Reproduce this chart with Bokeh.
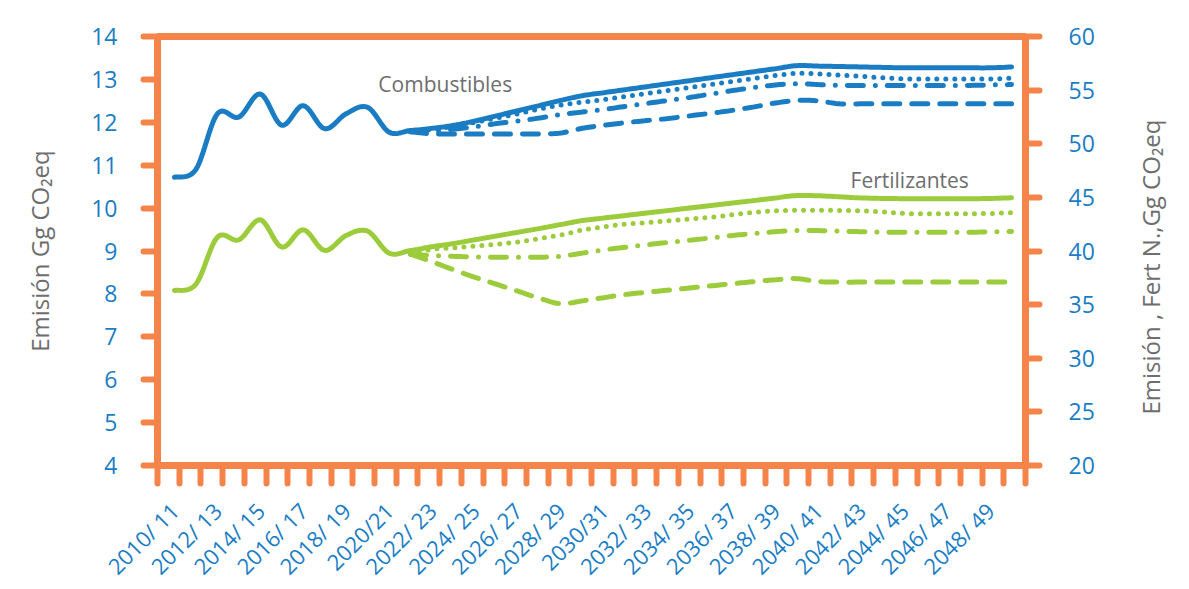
import math
from bokeh.plotting import figure
from bokeh.layouts import row
from bokeh.models import Range1d, LinearAxis, FixedTicker, Label
from bokeh.embed import file_html
from bokeh.resources import INLINE

# ---------------- data ----------------
tick_labels = ["2010/ 11", "2012/ 13", "2014/ 15", "2016/ 17", "2018/ 19", "2020/21",
               "2022/ 23", "2024/ 25", "2026/ 27", "2028/ 29", "2030/31", "2032/ 33",
               "2034/ 35", "2036/ 37", "2038/ 39", "2040/ 41", "2042/ 43", "2044/ 45",
               "2046/ 47", "2048/ 49"]
n_categories = 40          # 2010/11 ... 2049/50
scenario_start = 11        # 2021/22

comb_solid = [10.72, 10.90, 12.20, 12.12, 12.66, 11.93, 12.39, 11.85, 12.20, 12.35, 11.77,
              11.81, 11.86, 11.93, 12.03, 12.15, 12.27, 12.39, 12.51, 12.62, 12.69, 12.76,
              12.83, 12.90, 12.97, 13.04, 13.11, 13.18, 13.25, 13.32, 13.31, 13.30, 13.29,
              13.28, 13.27, 13.27, 13.27, 13.27, 13.27, 13.29]
comb_dotted = [11.78, 11.83, 11.91, 12.00, 12.10, 12.20, 12.31, 12.40, 12.47, 12.53, 12.60,
               12.67, 12.74, 12.81, 12.88, 12.95, 13.02, 13.09, 13.14, 13.13, 13.10, 13.07,
               13.04, 13.01, 13.01, 13.01, 13.01, 13.01, 13.03]
comb_dashdot = [11.78, 11.80, 11.84, 11.90, 11.97, 12.03, 12.10, 12.18, 12.24, 12.30, 12.37,
                12.44, 12.51, 12.58, 12.66, 12.74, 12.81, 12.87, 12.90, 12.88, 12.86, 12.86,
                12.86, 12.86, 12.86, 12.86, 12.86, 12.87, 12.88]
comb_dashed = [11.78, 11.73, 11.73, 11.73, 11.73, 11.73, 11.73, 11.75, 11.86, 11.93, 11.99,
               12.04, 12.09, 12.15, 12.21, 12.28, 12.36, 12.45, 12.51, 12.50, 12.43, 12.43,
               12.43, 12.43, 12.43, 12.43, 12.43, 12.43, 12.43]

fert_solid = [36.32, 36.90, 41.29, 41.04, 42.91, 40.36, 41.98, 40.05, 41.45, 41.85, 39.80,
              40.05, 40.40, 40.70, 41.05, 41.40, 41.75, 42.10, 42.47, 42.84, 43.07, 43.30,
              43.54, 43.77, 44.01, 44.24, 44.48, 44.71, 44.95, 45.17, 45.15, 45.05, 44.95,
              44.90, 44.88, 44.87, 44.87, 44.87, 44.90, 44.96]
fert_dotted = [39.70, 40.15, 40.30, 40.45, 40.62, 40.85, 41.15, 41.50, 41.95, 42.25, 42.50,
               42.65, 42.82, 42.98, 43.15, 43.38, 43.60, 43.75, 43.80, 43.80, 43.78, 43.75,
               43.65, 43.50, 43.47, 43.47, 43.47, 43.50, 43.58]
fert_dashdot = [39.70, 39.58, 39.50, 39.45, 39.42, 39.42, 39.42, 39.50, 39.80, 40.10, 40.35,
                40.58, 40.80, 41.00, 41.22, 41.45, 41.62, 41.80, 41.92, 41.90, 41.85, 41.80,
                41.76, 41.75, 41.75, 41.75, 41.75, 41.78, 41.82]
fert_dashed = [39.70, 39.00, 38.25, 37.55, 36.90, 36.25, 35.60, 35.08, 35.35, 35.65, 35.95,
               36.15, 36.35, 36.55, 36.75, 36.95, 37.15, 37.32, 37.42, 37.15, 37.10, 37.10,
               37.10, 37.10, 37.10, 37.10, 37.10, 37.10, 37.10]

left_ticks = [4, 5, 6, 7, 8, 9, 10, 11, 12, 13, 14]
right_ticks = [20, 25, 30, 35, 40, 45, 50, 55, 60]

# ---------------- style ----------------
ORANGE = "#f5844a"
BLUE = "#1a7dc4"
GREEN = "#9ccc3c"
GREY = "#6e6e6e"
FONT = "Open Sans"


def smooth(xs, ys, steps=10):
    """Bezier smoothing through the data points (like a spreadsheet 'smoothed line')."""
    n = len(xs)
    if n < 3:
        return list(xs), list(ys)
    ox, oy = [xs[0]], [ys[0]]
    for i in range(n - 1):
        x0, y0 = (xs[i - 1], ys[i - 1]) if i > 0 else (xs[i], ys[i])
        x1, y1 = xs[i], ys[i]
        x2, y2 = xs[i + 1], ys[i + 1]
        x3, y3 = (xs[i + 2], ys[i + 2]) if i + 2 < n else (xs[i + 1], ys[i + 1])
        c1x, c1y = x1 + (x2 - x0) / 6, y1 + (y2 - y0) / 6
        c2x, c2y = x2 - (x3 - x1) / 6, y2 - (y3 - y1) / 6
        for s in range(1, steps + 1):
            t = s / steps
            a, b, c, d = (1 - t) ** 3, 3 * (1 - t) ** 2 * t, 3 * (1 - t) * t ** 2, t ** 3
            ox.append(a * x1 + b * c1x + c * c2x + d * x2)
            oy.append(a * y1 + b * c1y + c * c2y + d * y2)
    return ox, oy


X0, X1 = -0.79, 39.65
p = figure(frame_width=868, frame_height=429, x_range=Range1d(X0, X1), y_range=Range1d(4, 14),
           output_backend="svg", toolbar_location=None,
           min_border_left=157, min_border_right=90, min_border_top=36, min_border_bottom=110)
p.extra_y_ranges = {"r": Range1d(20, 60)}
p.xgrid.visible = False
p.ygrid.visible = False
p.outline_line_color = ORANGE
p.outline_line_width = 7
p.background_fill_color = "white"
p.border_fill_color = "white"

x_all = list(range(n_categories))
x_scen = x_all[scenario_start:]

dash_styles = ["0 9", "16 12 0 12", "16 12"]

for solid, scen, color, rng in [
    (comb_solid, [comb_dotted, comb_dashdot, comb_dashed], BLUE, "default"),
    (fert_solid, [fert_dotted, fert_dashdot, fert_dashed], GREEN, "r"),
]:
    for series, dash in zip(scen, dash_styles):
        sx, sy = smooth(x_scen, series)
        p.line(sx, sy, line_color=color, line_width=5, line_dash=dash, line_cap="round",
               y_range_name=rng)
    sx, sy = smooth(x_all, solid)
    p.line(sx, sy, line_color=color, line_width=5, line_cap="round", y_range_name=rng)

# x axis
xa = p.xaxis[0]
label_pos = x_all[::2]
boundaries = [X0 + k * (X1 - X0) / n_categories for k in range(n_categories + 1)]
xa.ticker = FixedTicker(ticks=label_pos, minor_ticks=boundaries)
xa.major_label_overrides = {pos: lab for pos, lab in zip(label_pos, tick_labels)}
xa.major_label_orientation = math.pi / 4
xa.major_tick_out = 0
xa.major_tick_in = 0
xa.minor_tick_out = 18
xa.minor_tick_in = 0
xa.minor_tick_line_color = ORANGE
xa.minor_tick_line_width = 6
xa.minor_tick_line_cap = "round"
xa.axis_line_color = ORANGE
xa.axis_line_width = 7
xa.major_label_text_color = BLUE
xa.major_label_text_font = FONT
xa.major_label_text_font_size = "22px"
xa.major_label_standoff = 23

# left axis
ya = p.yaxis[0]
ya.ticker = FixedTicker(ticks=left_ticks)
ya.axis_label = "Emisión Gg CO₂eq"

# right axis
yr = LinearAxis(y_range_name="r", ticker=FixedTicker(ticks=right_ticks))
p.add_layout(yr, "right")

for ax, standoff, lab_standoff in [(ya, 26, 32), (yr, 29, 44)]:
    ax.axis_line_color = ORANGE
    ax.axis_line_width = 7
    ax.major_tick_line_color = ORANGE
    ax.major_tick_line_width = 6
    ax.major_tick_line_cap = "round"
    ax.major_tick_out = 14
    ax.major_tick_in = 0
    ax.minor_tick_line_color = None
    ax.major_label_text_color = BLUE
    ax.major_label_text_font = FONT
    ax.major_label_text_font_size = "23px"
    ax.major_label_standoff = standoff
    ax.axis_label_text_font = FONT
    ax.axis_label_text_font_size = "24px"
    ax.axis_label_text_font_style = "normal"
    ax.axis_label_text_color = GREY
    ax.axis_label_standoff = lab_standoff

p.add_layout(Label(x=9.5, y=12.9, text="Combustibles", text_font=FONT, text_font_size="21px",
                   text_color=GREY, text_baseline="middle", text_align="left"))
p.add_layout(Label(x=31.5, y=46.6, y_range_name="r", text="Fertilizantes", text_font=FONT,
                   text_font_size="21px", text_color=GREY, text_baseline="middle",
                   text_align="left"))

# right-hand axis title (reads bottom-to-top), drawn in a narrow side panel sharing the right scale
side = figure(frame_width=70, frame_height=429, x_range=Range1d(0, 1),
              y_range=p.extra_y_ranges["r"], output_backend="svg", toolbar_location=None,
              min_border_left=0, min_border_right=0, min_border_top=36, min_border_bottom=110,
              x_axis_location=None, y_axis_location=None)
side.xgrid.visible = False
side.ygrid.visible = False
side.outline_line_color = None
side.background_fill_color = "white"
side.border_fill_color = "white"
side.add_layout(Label(x=0.5, y=38.5, angle=math.pi / 2, text="Emisión , Fert N.,Gg CO₂eq",
                      text_font=FONT, text_font_size="24px", text_color=GREY,
                      text_align="center", text_baseline="middle"))

layout = row(p, side, spacing=0)
open("out.html", "w").write(file_html(layout, INLINE))
